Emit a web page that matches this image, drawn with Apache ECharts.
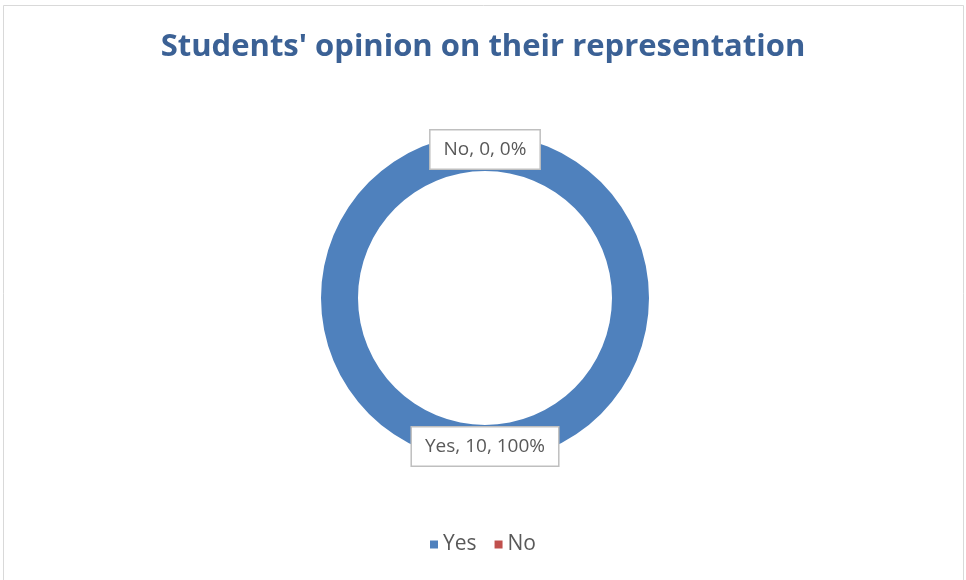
<!DOCTYPE html>
<html>
<head>
<meta charset="utf-8">
<script src="https://cdn.jsdelivr.net/npm/echarts@6/dist/echarts.min.js"></script>
<style>
html,body{margin:0;padding:0;background:#fff;}
#chart{width:966px;height:580px;}
</style>
</head>
<body>
<div id="chart"></div>
<script>
const titleText = "Students' opinion on their representation";
const categories = ["Yes", "No"];
const values = [10, 0];
const colors = ["#4F81BD", "#C0504D"];

const total = values.reduce((a, b) => a + b, 0);
const chart = echarts.init(document.getElementById('chart'), null, {renderer: 'canvas'});
chart.setOption({
  animation: false,
  backgroundColor: '#ffffff',
  title: {
    text: titleText,
    left: 'center',
    top: 27,
    textStyle: {fontFamily: 'Open Sans', fontWeight: 'bold', fontSize: 31, color: '#3B6195'}
  },
  legend: {
    data: categories,
    bottom: 20,
    left: 'center',
    icon: 'rect',
    itemWidth: 8,
    itemHeight: 8,
    itemGap: 18,
    textStyle: {fontFamily: 'Open Sans', fontSize: 21, color: '#595959'}
  },
  graphic: [{
    type: 'rect',
    shape: {x: 3.5, y: 5.5, width: 960, height: 600},
    style: {fill: 'none', stroke: '#d9d9d9', lineWidth: 1},
    silent: true
  }],
  series: [{
    type: 'pie',
    center: [485, 298],
    radius: [127, 164],
    startAngle: 90,
    clockwise: true,
    avoidLabelOverlap: false,
    minShowLabelAngle: 0,
    data: categories.map((c, i) => ({name: c, value: values[i], itemStyle: {color: colors[i]}})),
    label: {
      show: true,
      position: 'inside',
      formatter: p => p.name + ', ' + p.value + ', ' + Math.round(p.value / total * 100) + '%',
      fontFamily: 'Open Sans',
      fontSize: 19,
      color: '#595959',
      backgroundColor: '#ffffff',
      borderColor: '#bfbfbf',
      borderWidth: 1.5,
      padding: [10, 13, 9, 13]
    },
    labelLine: {show: false},
    emphasis: {disabled: true}
  }]
});
</script>
</body>
</html>
